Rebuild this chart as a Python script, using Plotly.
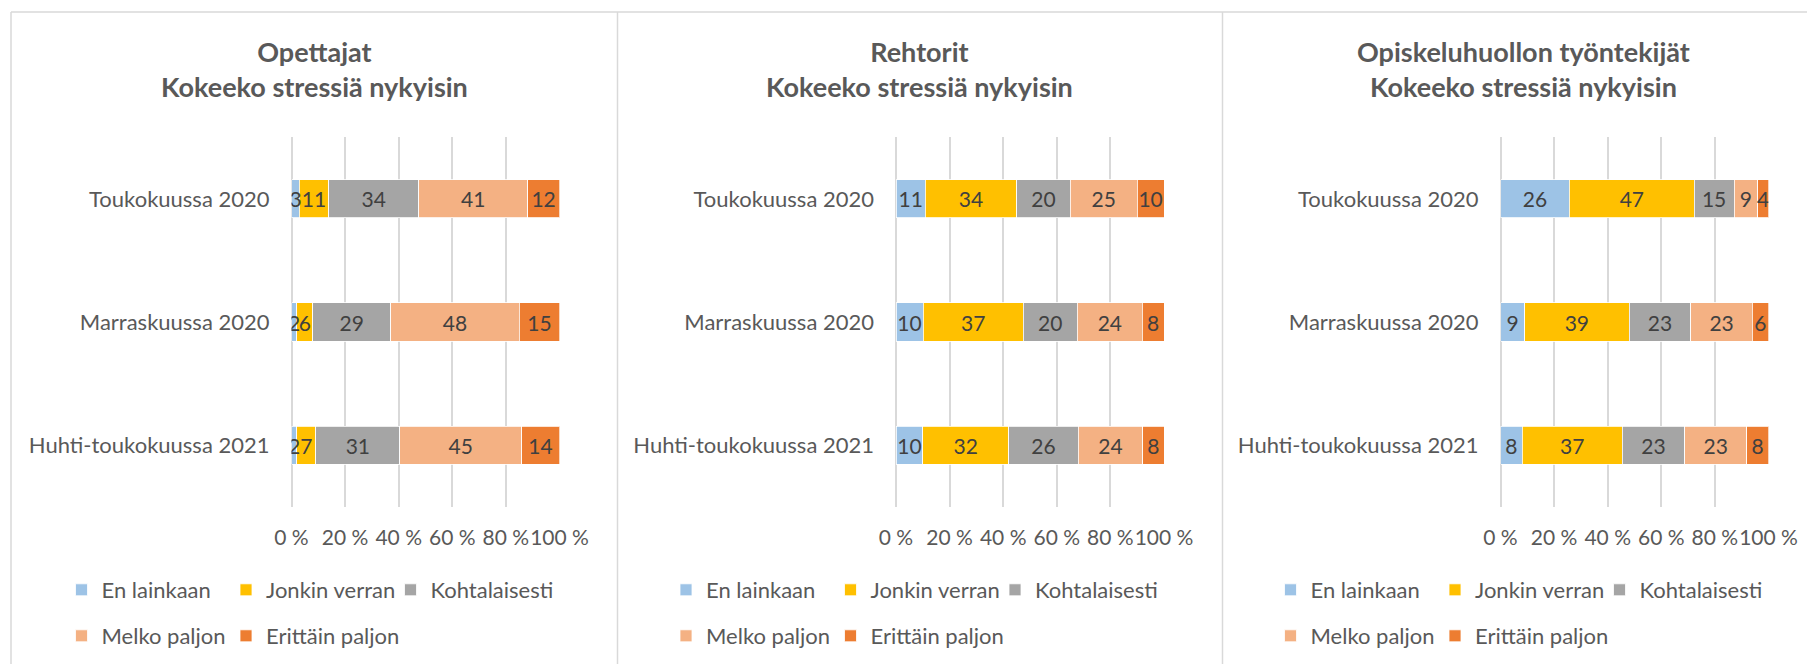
import plotly.graph_objects as go

# Survey periods (rows, top to bottom) and answer options (stack order)
periods = ["Toukokuussa 2020", "Marraskuussa 2020", "Huhti-toukokuussa 2021"]
answers = ["En lainkaan", "Jonkin verran", "Kohtalaisesti", "Melko paljon", "Erittäin paljon"]
answer_colors = ["#9DC3E6", "#FFC000", "#A5A5A5", "#F4B183", "#ED7D31"]

# Share of respondents (%) per answer option, one list per answer, values per period
opettajat = [
    [3, 2, 2],
    [11, 6, 7],
    [34, 29, 31],
    [41, 48, 45],
    [12, 15, 14],
]
rehtorit = [
    [11, 10, 10],
    [34, 37, 32],
    [20, 20, 26],
    [25, 24, 24],
    [10, 8, 8],
]
opiskeluhuolto = [
    [26, 9, 8],
    [47, 39, 37],
    [15, 23, 23],
    [9, 23, 23],
    [4, 6, 8],
]

groups = ["Opettajat", "Rehtorit", "Opiskeluhuollon työntekijät"]
question = "Kokeeko stressiä nykyisin"
group_data = [opettajat, rehtorit, opiskeluhuolto]

pct_ticks = [0, 20, 40, 60, 80, 100]
pct_labels = ["0 %", "20 %", "40 %", "60 %", "80 %", "100 %"]

W, H = 1807, 664
FONT = "Lato"
GREY = "#595959"
DARK = "#404040"
LINE = "#D9D9D9"

# panel geometry in pixels
panel_step = 604.5
plot_left0, plot_width = 291.5, 268.0
plot_top, plot_bottom = 137.3, 506.7
# legend entry anchors (col x, row y) for the first panel: 3 entries on row 1, 2 on row 2
legend_cols_x = [61.5, 226.0, 390.5]
legend_rows_y = [590, 636]
legend_slots = [(0, 0), (1, 0), (2, 0), (0, 1), (1, 1)]

fig = go.Figure()
n_legend = 0

for p, (name, data) in enumerate(zip(groups, group_data)):
    ax = "" if p == 0 else str(p + 1)
    ax_top = str(p + 4)  # overlay axes that carry the value labels above all segments

    for k, (label, color, vals) in enumerate(zip(answers, answer_colors, data)):
        legend_id = "legend" if n_legend == 0 else "legend" + str(n_legend + 1)
        col, row = legend_slots[k]
        fig.update_layout({legend_id: dict(
            orientation="h",
            x=(legend_cols_x[col] + p * panel_step) / W, xanchor="left",
            y=1 - legend_rows_y[row] / H, yanchor="middle",
            font=dict(family=FONT, size=22, color=GREY),
            bgcolor="rgba(0,0,0,0)", borderwidth=0,
        )})
        n_legend += 1

        fig.add_trace(go.Bar(
            x=vals, y=periods, orientation="h", name=label,
            marker=dict(color=color, line=dict(color="white", width=0.8)),
            xaxis="x" + ax, yaxis="y" + ax,
            legend=legend_id, hoverinfo="skip",
        ))

    # value labels, stacked identically on the overlay axes so none is hidden by a neighbour
    for k, vals in enumerate(data):
        fig.add_trace(go.Bar(
            x=vals, y=periods, orientation="h",
            marker=dict(color="rgba(0,0,0,0)", line=dict(width=0)),
            text=[str(v) for v in vals],
            textposition="inside", insidetextanchor="middle",
            constraintext="none", textangle=0,
            textfont=dict(family=FONT, size=21, color=DARK),
            xaxis="x" + ax_top, yaxis="y" + ax_top,
            showlegend=False, hoverinfo="skip",
        ))

    x0 = (plot_left0 + p * panel_step) / W
    x1 = (plot_left0 + plot_width + p * panel_step) / W
    y_dom = [1 - plot_bottom / H, 1 - plot_top / H]
    fig.update_layout({
        "xaxis" + ax: dict(
            domain=[x0, x1], range=[0, 100], tickvals=pct_ticks, ticktext=pct_labels,
            tickangle=0, automargin=False,
            showgrid=True, gridcolor=LINE, gridwidth=1.5,
            zeroline=True, zerolinecolor=LINE, zerolinewidth=1.5,
            showline=False, ticks="", ticklabelstandoff=16,
            tickfont=dict(family=FONT, size=21, color=GREY),
            anchor="y" + ax, fixedrange=True,
        ),
        "yaxis" + ax: dict(
            domain=y_dom,
            categoryorder="array", categoryarray=periods[::-1],
            automargin=False,
            showgrid=False, zeroline=False, showline=False, ticks="",
            ticklabelstandoff=21,
            tickfont=dict(family=FONT, size=22, color=GREY),
            anchor="x" + ax, fixedrange=True,
        ),
        "xaxis" + ax_top: dict(
            overlaying="x" + ax, domain=[x0, x1], range=[0, 100],
            visible=False, automargin=False, fixedrange=True,
            anchor="y" + ax_top,
        ),
        "yaxis" + ax_top: dict(
            overlaying="y" + ax, domain=y_dom,
            categoryorder="array", categoryarray=periods[::-1],
            visible=False, automargin=False, fixedrange=True,
            anchor="x" + ax_top,
        ),
    })

    # panel heading
    fig.add_annotation(
        xref="paper", yref="paper",
        x=(314.5 + p * panel_step) / W, y=1 - 69 / H,
        text="<b>" + name + "<br>" + question + "</b>",
        showarrow=False, xanchor="center", yanchor="middle",
        font=dict(family=FONT, size=27, color=GREY),
    )

# panel frames
frame = dict(type="line", xref="paper", yref="paper", line=dict(color=LINE, width=1.5))
fig.add_shape(frame, x0=11 / W, x1=1, y0=1 - 12 / H, y1=1 - 12 / H)
for xp in [11, 617.5, 1222.5]:
    fig.add_shape(frame, x0=xp / W, x1=xp / W, y0=0, y1=1 - 12 / H)

fig.update_layout(
    width=W, height=H,
    margin=dict(l=0, r=0, t=0, b=0, autoexpand=False),
    barmode="stack", barnorm="percent", bargap=0.69,
    paper_bgcolor="white", plot_bgcolor="white",
    showlegend=True,
    font=dict(family=FONT, color=GREY),
)

fig.write_html("out.html")
